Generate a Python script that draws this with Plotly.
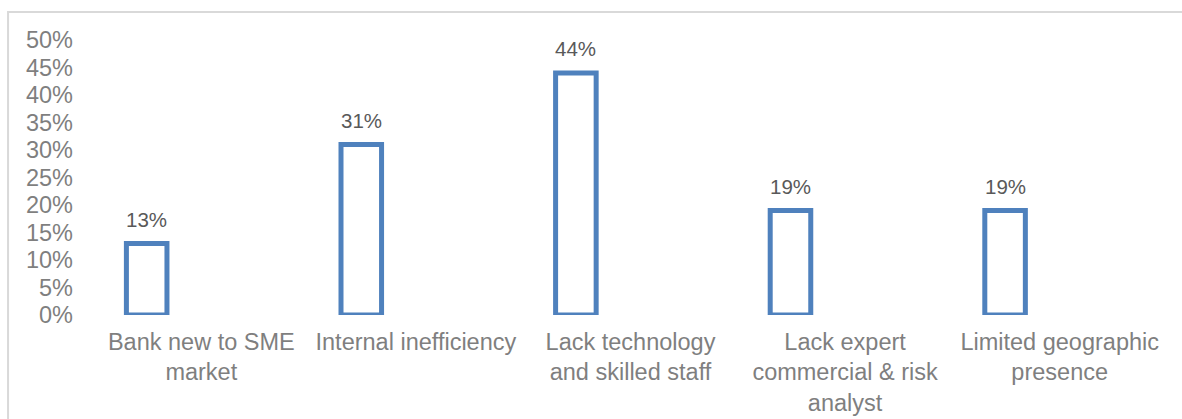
import plotly.graph_objects as go

# Survey results: share of respondents citing each constraint
categories = [
    "Bank new to SME<br>market",
    "Internal inefficiency",
    "Lack technology<br>and skilled staff",
    "Lack expert<br>commercial & risk<br>analyst",
    "Limited geographic<br>presence",
]
values = [0.13, 0.31, 0.44, 0.19, 0.19]
value_labels = ["13%", "31%", "44%", "19%", "19%"]
y_ticks = [0, 0.05, 0.10, 0.15, 0.20, 0.25, 0.30, 0.35, 0.40, 0.45, 0.50]
y_tick_labels = ["0%", "5%", "10%", "15%", "20%", "25%", "30%", "35%", "40%", "45%", "50%"]

BAR_COLOR = "#4f81bd"
FONT = "Liberation Sans, Arial, sans-serif"

# bars sit left of the category centre (first slot of a two-slot group)
bar_width = 0.189
bar_shift = -0.2545

fig = go.Figure()
fig.add_trace(go.Bar(
    x=categories,
    y=values,
    width=bar_width,
    offset=bar_shift - bar_width / 2,
    marker=dict(color="white", line=dict(color=BAR_COLOR, width=5)),
    hoverinfo="skip",
))

# value labels above each bar
for i, (v, lab) in enumerate(zip(values, value_labels)):
    fig.add_annotation(
        x=i + bar_shift, y=v, text=lab, showarrow=False,
        xref="x", yref="y", yanchor="bottom", yshift=11,
        font=dict(family=FONT, size=20.5, color="#595959"),
    )

# light frame around the chart area
fig.add_shape(
    type="rect", xref="paper", yref="paper",
    x0=-0.0801, x1=1.3, y0=-0.6, y1=1.1018,
    line=dict(color="#d9d9d9", width=2), fillcolor="rgba(0,0,0,0)",
    layer="below",
)

fig.update_layout(
    width=1182, height=419,
    margin=dict(l=94, r=15, t=40, b=104, autoexpand=False),
    paper_bgcolor="white", plot_bgcolor="white",
    showlegend=False,
    font=dict(family=FONT, size=23.5, color="#7f7f7f"),
    xaxis=dict(
        type="category", showgrid=False, zeroline=False, showline=False,
        ticks="", tickfont=dict(size=23.5, color="#7f7f7f"),
        ticklabelstandoff=10, automargin=False,
    ),
    yaxis=dict(
        range=[0, 0.5], tickvals=y_ticks, ticktext=y_tick_labels,
        showgrid=False, zeroline=False, showline=False, ticks="",
        tickfont=dict(size=23.5, color="#7f7f7f"),
        ticklabelstandoff=20, automargin=False,
    ),
)

fig.write_html("out.html")
